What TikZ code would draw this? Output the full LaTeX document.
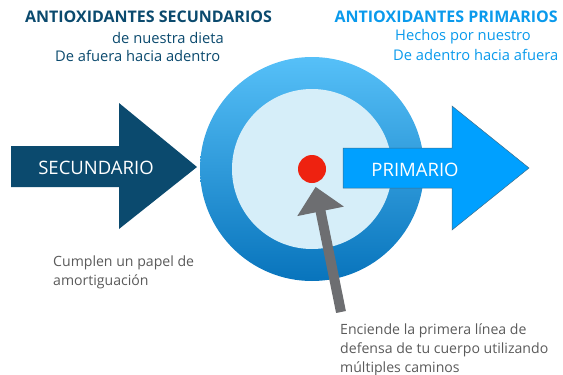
\documentclass[tikz,border=0pt]{standalone}
\usepackage{fontspec}
\setmainfont{Open Sans}
\usetikzlibrary{arrows.meta}
\definecolor{navy}{HTML}{0B4A6E}
\definecolor{brightblue}{HTML}{00A0FF}
\definecolor{ringtop}{HTML}{56C0F8}
\definecolor{ringbot}{HTML}{0874BC}
\definecolor{innerfill}{HTML}{D6EEF9}
\definecolor{dotred}{HTML}{EE2210}
\definecolor{greyarr}{HTML}{6D6E71}
\definecolor{txtgrey}{HTML}{5A5A5A}
\definecolor{primtxt}{HTML}{0A9AEC}
\tikzset{
  x=1pt, y=-1pt,
  headline/.style={font=\fontsize{16}{18}\selectfont\bfseries, inner sep=0pt},
  subline/.style={font=\fontsize{14.7}{16}\selectfont, inner sep=0pt},
  greytext/.style={font=\fontsize{14.1}{19}\selectfont, text=txtgrey, align=left, inner sep=0pt, anchor=west},
  arrowlabel/.style={font=\fontsize{18.5}{20}\selectfont, text=white, inner sep=0pt},
  greyconnector/.style={draw=greyarr, line width=10pt, -{Triangle[width=46pt,length=25pt]}, shorten >=4pt}
}
\begin{document}
\begin{tikzpicture}
\useasboundingbox (0,0) rectangle (563,375);
% secondary arrow
\fill[navy] (11,146) -- (119,146) -- (119,103) -- (197,167) -- (119,229) -- (119,187) -- (11,187) -- cycle;
\node[arrowlabel] (sec) at (96,168) {SECUNDARIO};
% target circles
\shade[top color=ringtop, bottom color=ringbot] (312,169) circle (112);
\node[circle, fill=innerfill, minimum size=160pt, inner sep=0pt] (inner) at (312,169) {};
% primary arrow
\filldraw[fill=brightblue, draw=navy!80, line width=0.5pt] (343,148) -- (452,148) -- (452,106) -- (529,168) -- (452,230) -- (452,188) -- (343,188) -- cycle;
\node[arrowlabel] (prim) at (415,170) {PRIMARIO};
% red dot
\node[circle, fill=dotred, minimum size=28pt, inner sep=0pt] (dot) at (312,169) {};
% grey arrow
\coordinate (gs) at (341,312);
\draw[greyconnector] (gs) -- (dot);
% texts
\node[headline, text=navy] (h1) at (148.5,17) {ANTIOXIDANTES SECUNDARIOS};
\node[subline, text=navy, anchor=west] (s1) at (112,38) {de nuestra dieta};
\node[subline, text=navy, anchor=west] (s2) at (55,56) {De afuera hacia adentro};
\node[headline, text=primtxt, anchor=east] (h2) at (558,17) {ANTIOXIDANTES PRIMARIOS};
\node[subline, text=primtxt, anchor=west] (p1) at (395,37) {Hechos por nuestro};
\node[subline, text=primtxt, anchor=west] (p2) at (393,55) {De adentro hacia afuera};
\node[greytext, anchor=north west] (c1) at (53,256) {Cumplen un papel de\\amortiguación};
\node[greytext, anchor=north west] (c2) at (340,323) {Enciende la primera línea de\\defensa de tu cuerpo utilizando\\múltiples caminos};
\end{tikzpicture}
\end{document}
